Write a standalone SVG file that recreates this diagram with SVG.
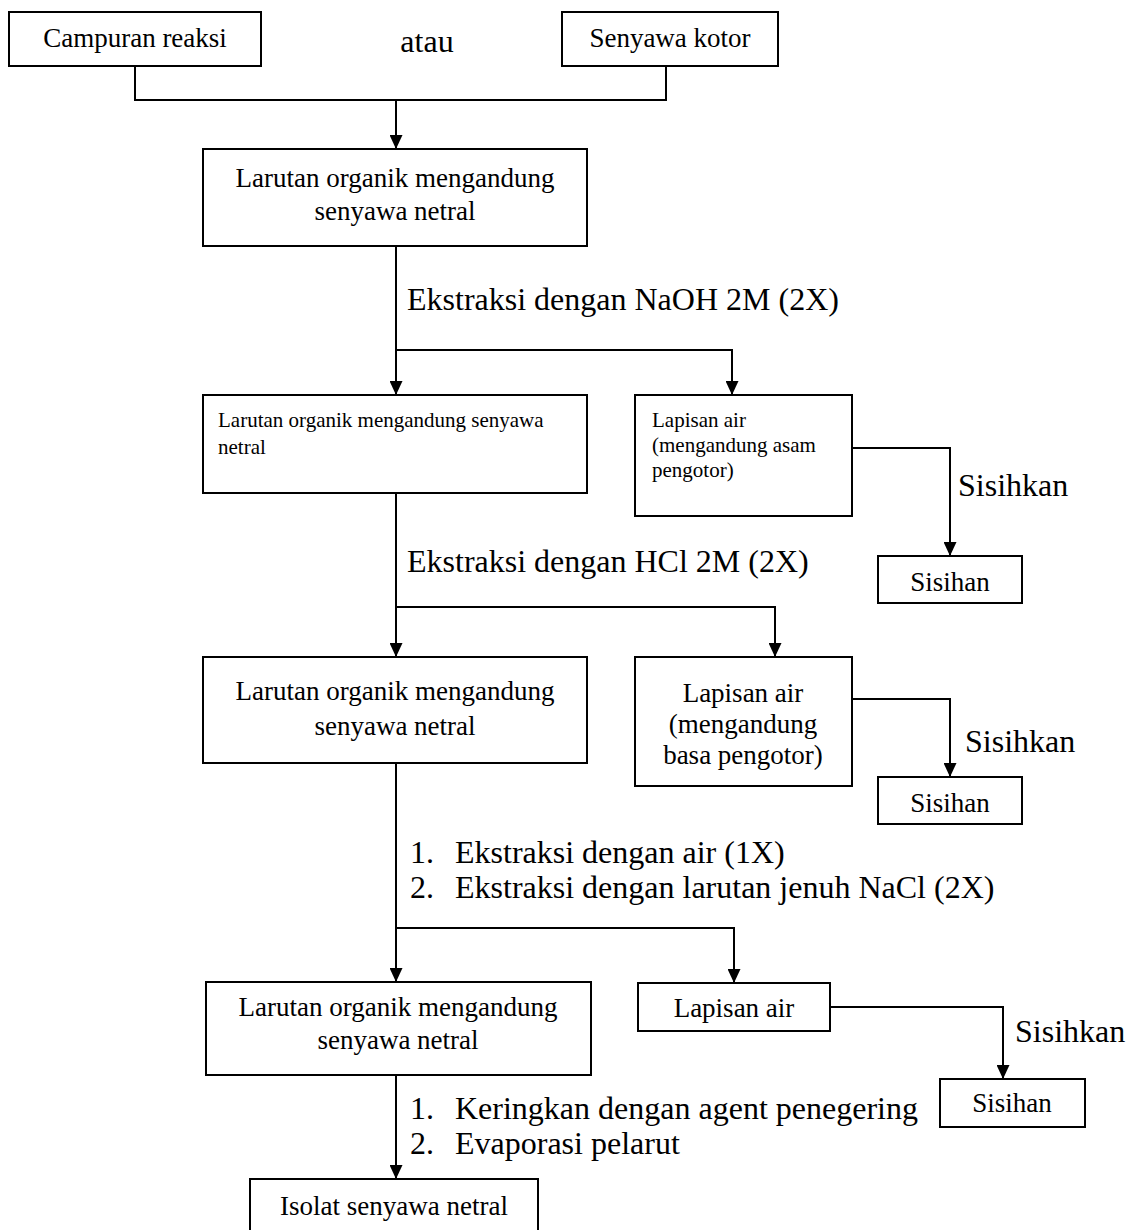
<svg xmlns="http://www.w3.org/2000/svg" width="1131" height="1230" viewBox="0 0 1131 1230">
<defs>
<style>
.box{fill:#fff;stroke:#000;stroke-width:2}
.t{font-family:"Liberation Serif","Times New Roman",serif;font-size:27px;fill:#000;text-anchor:middle}
.s{font-family:"Liberation Serif","Times New Roman",serif;font-size:21px;fill:#000}
.l{font-family:"Liberation Serif","Times New Roman",serif;font-size:32px;fill:#000}
.c{fill:none;stroke:#000;stroke-width:2}
</style>
<marker id="ah" markerUnits="userSpaceOnUse" markerWidth="14" markerHeight="13" refX="14" refY="6.5" orient="auto">
<path d="M0,0 L14,6.5 L0,13 z" fill="#000"/>
</marker>
</defs>
<rect width="1131" height="1230" fill="#fff"/>
<g id="connectors">
<path class="c" d="M135,66 V100 H666 V66"/>
<path class="c" d="M396,100 V149" marker-end="url(#ah)"/>
<path class="c" d="M396,246 V395" marker-end="url(#ah)"/>
<path class="c" d="M396,350 H732 V395" marker-end="url(#ah)"/>
<path class="c" d="M852,448 H950 V556" marker-end="url(#ah)"/>
<path class="c" d="M396,493 V657" marker-end="url(#ah)"/>
<path class="c" d="M396,607 H775 V657" marker-end="url(#ah)"/>
<path class="c" d="M852,699 H950 V777" marker-end="url(#ah)"/>
<path class="c" d="M396,763 V982" marker-end="url(#ah)"/>
<path class="c" d="M396,928 H734 V983" marker-end="url(#ah)"/>
<path class="c" d="M830,1007 H1003 V1079" marker-end="url(#ah)"/>
<path class="c" d="M396,1075 V1179" marker-end="url(#ah)"/>
</g>
<g id="labels">
<text class="l" x="427" y="52" text-anchor="middle">atau</text>
<text class="l" x="407" y="310">Ekstraksi dengan NaOH 2M (2X)</text>
<text class="l" x="407" y="572">Ekstraksi dengan HCl 2M (2X)</text>
<text class="l" x="958" y="496">Sisihkan</text>
<text class="l" x="965" y="752">Sisihkan</text>
<text class="l" x="1015" y="1042">Sisihkan</text>
<text class="l" x="410" y="863">1.</text>
<text class="l" x="455" y="863">Ekstraksi dengan air (1X)</text>
<text class="l" x="410" y="898">2.</text>
<text class="l" x="455" y="898">Ekstraksi dengan larutan jenuh NaCl (2X)</text>
<text class="l" x="410" y="1119">1.</text>
<text class="l" x="455" y="1119">Keringkan dengan agent penegering</text>
<text class="l" x="410" y="1154">2.</text>
<text class="l" x="455" y="1154">Evaporasi pelarut</text>
</g>
<g id="campuran">
<rect class="box" x="9" y="12" width="252" height="54"/>
<text class="t" x="135" y="47">Campuran reaksi</text>
</g>
<g id="senyawa-kotor">
<rect class="box" x="562" y="12" width="216" height="54"/>
<text class="t" x="670" y="47">Senyawa kotor</text>
</g>
<g id="org1">
<rect class="box" x="203" y="149" width="384" height="97"/>
<text class="t" x="395" y="187">Larutan organik mengandung</text>
<text class="t" x="395" y="220">senyawa netral</text>
</g>
<g id="org2">
<rect class="box" x="203" y="395" width="384" height="98"/>
<text class="s" x="218" y="427">Larutan organik mengandung senyawa</text>
<text class="s" x="218" y="454">netral</text>
</g>
<g id="air1">
<rect class="box" x="635" y="395" width="217" height="121"/>
<text class="s" x="652" y="427">Lapisan air</text>
<text class="s" x="652" y="452">(mengandung asam</text>
<text class="s" x="652" y="477">pengotor)</text>
</g>
<g id="sisihan1">
<rect class="box" x="878" y="556" width="144" height="47"/>
<text class="t" x="950" y="591">Sisihan</text>
</g>
<g id="org3">
<rect class="box" x="203" y="657" width="384" height="106"/>
<text class="t" x="395" y="700">Larutan organik mengandung</text>
<text class="t" x="395" y="735">senyawa netral</text>
</g>
<g id="air2">
<rect class="box" x="635" y="657" width="217" height="129"/>
<text class="t" x="743" y="702">Lapisan air</text>
<text class="t" x="743" y="733">(mengandung</text>
<text class="t" x="743" y="764">basa pengotor)</text>
</g>
<g id="sisihan2">
<rect class="box" x="878" y="777" width="144" height="47"/>
<text class="t" x="950" y="812">Sisihan</text>
</g>
<g id="org4">
<rect class="box" x="206" y="982" width="385" height="93"/>
<text class="t" x="398" y="1016">Larutan organik mengandung</text>
<text class="t" x="398" y="1049">senyawa netral</text>
</g>
<g id="air3">
<rect class="box" x="638" y="983" width="192" height="48"/>
<text class="t" x="734" y="1017">Lapisan air</text>
</g>
<g id="sisihan3">
<rect class="box" x="940" y="1079" width="145" height="48"/>
<text class="t" x="1012" y="1112">Sisihan</text>
</g>
<g id="isolat">
<rect class="box" x="250" y="1179" width="288" height="60"/>
<text class="t" x="394" y="1215">Isolat senyawa netral</text>
</g>
</svg>
